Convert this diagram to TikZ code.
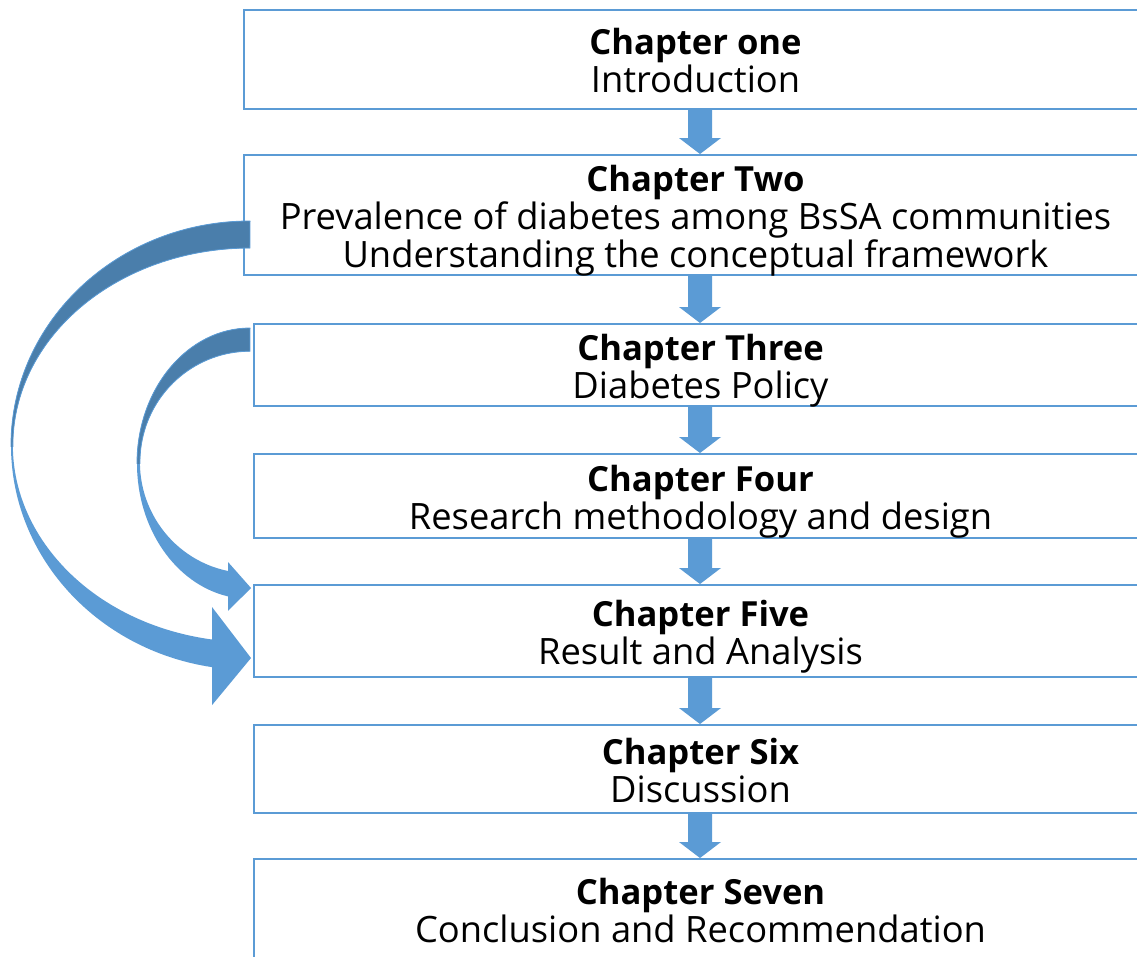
\documentclass[tikz,border=0pt]{standalone}
\usepackage{fontspec}
\setmainfont{Open Sans}
\usetikzlibrary{calc}

\definecolor{frameblue}{HTML}{5B9BD5}
\definecolor{arrowblue}{HTML}{5B9BD5}
\definecolor{arrowdark}{HTML}{4A7EAB}

\tikzset{
  chapbox/.style={draw=frameblue, line width=2pt, fill=white, inner sep=0pt,
    align=center, text depth=5.5pt, font=\fontsize{36.3}{38}\selectfont},
  flowfill/.style={fill=arrowblue},
}

% bold chapter heading inside a box (the strut fixes the height of the first line)
\newcommand\chapname[1]{{\fontsize{34.6}{38}\selectfont\bfseries\rule{0pt}{34pt}#1}}

% block arrow pointing down from the bottom of one box to the top of the next
\newcommand\flowdown[2]{%
  \fill[flowfill] let \p1=(#1.south), \p2=(#2.north) in
    (688pt,\y1) -- (712pt,\y1) -- (712pt,\y2+16pt) -- (721pt,\y2+16pt)
    -- (700pt,\y2) -- (679pt,\y2+16pt) -- (688pt,\y2+16pt) -- cycle;}

% wide curved arrow: Chapter Two -> Chapter Five
\newcommand\bigloop[1]{%
  \path[#1] (bigstart) arc[start angle=270, end angle=99.15, x radius=239, y radius=224.5]
    -- ++(0,38) -- (bigtip) -- ++(-39,-51) -- ++(0,32.5)
    arc[start angle=99.2, end angle=270, x radius=237, y radius=197] -- cycle;}

% narrow curved arrow: Chapter Three -> Chapter Five
\newcommand\smallloop[1]{%
  \path[#1] (smallstart) arc[start angle=270, end angle=101.2, x radius=113, y radius=135.5]
    -- ++(0,14.5) -- (smalltip) -- ++(-23,-26) -- ++(0,9)
    arc[start angle=101.5, end angle=270, x radius=110, y radius=111] -- cycle;}

\begin{document}
\begin{tikzpicture}[x=1pt, y=-1pt]
  \useasboundingbox (0,0) rectangle (1137,956);
  \fill[white] (0,0) rectangle (1137,956);
  \clip (0,0) rectangle (1137,956);

  % chapter boxes
  \node[chapbox, minimum width=903, minimum height=99]  (b1) at (695.5,59.5)
    {\chapname{Chapter one}\\Introduction};
  \node[chapbox, minimum width=903, minimum height=120] (b2) at (695.5,215)
    {\chapname{Chapter Two}\\Prevalence of diabetes among BsSA communities\\Understanding the conceptual framework};
  \node[chapbox, minimum width=893, minimum height=82]  (b3) at (700.5,365)
    {\chapname{Chapter Three}\\Diabetes Policy};
  \node[chapbox, minimum width=893, minimum height=84]  (b4) at (700.5,496)
    {\chapname{Chapter Four}\\Research methodology and design};
  \node[chapbox, minimum width=893, minimum height=92]  (b5) at (700.5,631)
    {\chapname{Chapter Five}\\Result and Analysis};
  \node[chapbox, minimum width=893, minimum height=88]  (b6) at (700.5,769)
    {\chapname{Chapter Six}\\Discussion};
  \node[chapbox, minimum width=893, minimum height=101] (b7) at (700.5,909.5)
    {\chapname{Chapter Seven}\\Conclusion and Recommendation};

  % straight flow arrows
  \flowdown{b1}{b2}
  \flowdown{b2}{b3}
  \flowdown{b3}{b4}
  \flowdown{b4}{b5}
  \flowdown{b5}{b6}
  \flowdown{b6}{b7}

  % end points of the curved arrows
  \coordinate (bigstart)   at ($(b2.west)+(7,6)$);
  \coordinate (bigtip)     at ($(b5.west)+(-2,27)$);
  \coordinate (smallstart) at ($(b3.west)+(-3,-37)$);
  \coordinate (smalltip)   at ($(b5.west)+(-2,-43)$);

  % curved arrows: light front half, darker back half
  \bigloop{fill=arrowblue}
  \begin{scope}
    \clip (0,0) rectangle (300,446);
    \bigloop{fill=arrowdark, draw=arrowblue, line width=0.8pt}
  \end{scope}
  \smallloop{fill=arrowblue}
  \begin{scope}
    \clip (0,0) rectangle (300,463);
    \smallloop{fill=arrowdark, draw=arrowblue, line width=0.8pt}
  \end{scope}
\end{tikzpicture}
\end{document}
